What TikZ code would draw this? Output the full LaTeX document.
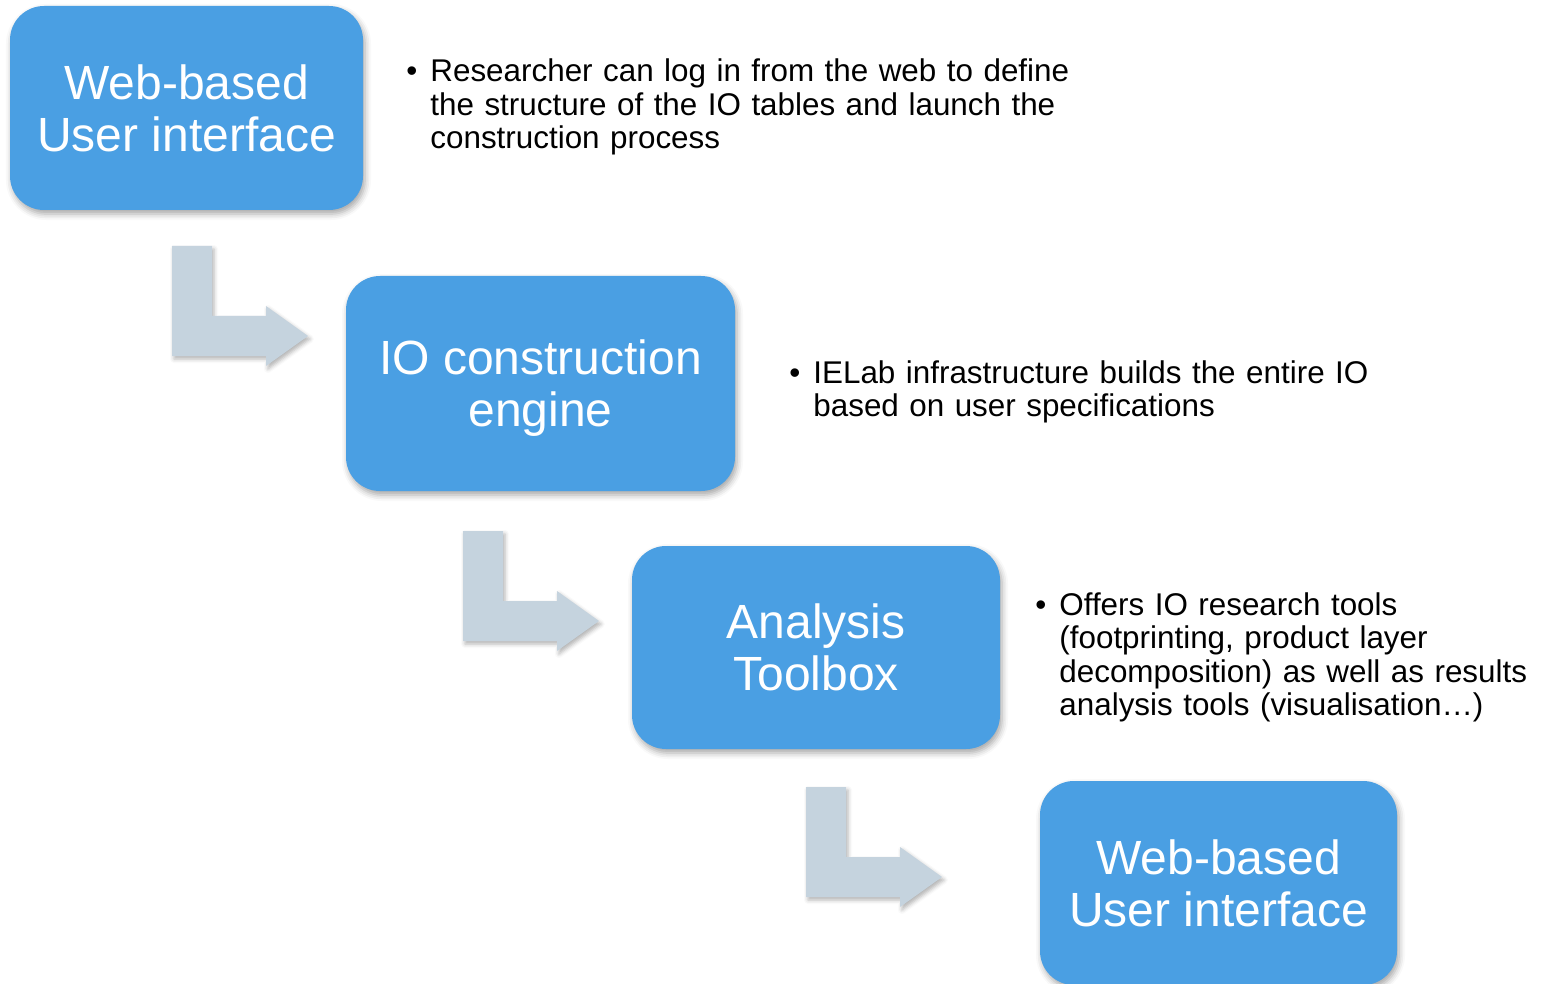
\documentclass[tikz,border=0pt]{standalone}
\usepackage{fontspec}
\setmainfont{Liberation Sans}
\usepackage{tikz}
\usetikzlibrary{shadows.blur}
\definecolor{boxblue}{HTML}{4A9FE3}
\definecolor{arrowgray}{HTML}{C5D3DE}
\tikzset{
  every picture/.style={
    line join=round,
  },
  % blue process boxes
  stage/.style={
    fill=boxblue, rounded corners=17pt, text=white, align=center,
    inner sep=0pt, text depth=0pt, font=\fontsize{24}{26}\selectfont,
    blur shadow={shadow xshift=1pt, shadow yshift=-2pt,
      shadow blur radius=3pt, shadow opacity=35},
  },
  bullet/.style={anchor=base west, inner sep=0pt, font=\fontsize{15.7}{16.75}\selectfont},
  note/.style={anchor=base west, inner sep=0pt, align=left, text width=360pt,
    font=\fontsize{15.7}{16.75}\selectfont},
  % grey bent arrow, origin at top left of the stem
  bendarrow/.pic={
    \fill[arrowgray, blur shadow={shadow xshift=1pt, shadow yshift=-1.5pt,
      shadow blur radius=2pt, shadow opacity=30}]
      (0,0) -- (40,0) -- (40,70) -- (94,70) -- (94,60) -- (136,90)
      -- (94,120) -- (94,110) -- (0,110) -- cycle;
  },
}

\begin{document}
\begin{tikzpicture}[x=0.5pt,y=-0.5pt]
\path[use as bounding box,clip](0,0)rectangle(1542,984);

\node[stage,minimum width=176.5pt,minimum height=102pt](web)at(186.5,108){Web-based\\User interface};
\node[stage,minimum width=194.5pt,minimum height=107.5pt](engine)at(540.5,383.5){IO construction\\engine};
\node[stage,minimum width=184pt,minimum height=101.5pt](toolbox)at(816,647.5){Analysis\\Toolbox};
\node[stage,minimum width=178.5pt,minimum height=102pt](webout)at(1218.5,883){Web-based\\User interface};

\pic(arrA)at(172,246){bendarrow};
\pic(arrB)at(463,531){bendarrow};
\pic(arrC)at(806,787){bendarrow};

\node[bullet](dotA)at(406,82){\textbullet};
\node[note](noteA)at(430,82){Researcher can log in from the web to define\\
the structure of the IO tables and launch the\\
construction process};
\node[bullet](dotB)at(789,383){\textbullet};
\node[note](noteB)at(813,383){IELab infrastructure builds the entire IO\\
based on user specifications};
\node[bullet](dotC)at(1035,615){\textbullet};
\node[note](noteC)at(1059,615){Offers IO research tools\\
(footprinting, product layer\\
decomposition) as well as results\\
analysis tools (visualisation…)};
\end{tikzpicture}
\end{document}
